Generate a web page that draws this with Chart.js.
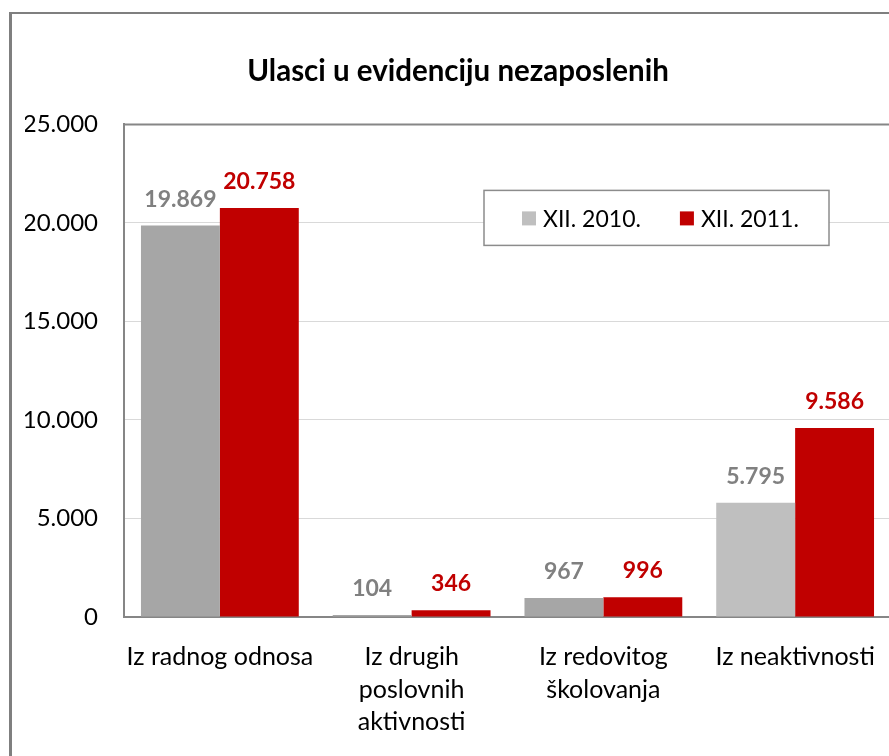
<!DOCTYPE html>
<html>
<head>
<meta charset="utf-8">
<script src="https://cdn.jsdelivr.net/npm/chart.js@4"></script>
<style>
html, body { margin: 0; padding: 0; background: #fff; overflow: hidden; }
#frame { position: absolute; left: 9px; top: 12px; width: 1000px; height: 1000px;
  border-left: 3px solid #7f7f7f; border-top: 2px solid #7f7f7f; }
#wrap { position: absolute; left: 0; top: 0; width: 910px; height: 756px; }
</style>
</head>
<body>
<div id="frame"></div>
<div id="wrap"><canvas id="c"></canvas></div>
<script>
// data
var categories = ['Iz radnog odnosa', ['Iz drugih', 'poslovnih', 'aktivnosti'], ['Iz redovitog', 'školovanja'], 'Iz neaktivnosti'];
var seriesNames = ['XII. 2010.', 'XII. 2011.'];
var values2010 = [19869, 104, 967, 5795];
var values2011 = [20758, 346, 996, 9586];
var yTicks = [0, 5000, 10000, 15000, 20000, 25000];

var FONT = "Lato, 'Open Sans', sans-serif";
var GRAY_BARS = ['#a6a6a6', '#a6a6a6', '#a6a6a6', '#bfbfbf'];
var LEGEND_GRAY = '#bfbfbf';
var RED = '#c00000';

function fmt(v) {
    return String(v).replace(/\B(?=(\d{3})+(?!\d))/g, '.');
}

// value labels above bars
var valueLabels = {
    id: 'valueLabels',
    afterDatasetsDraw: function(chart) {
        var ctx = chart.ctx;
        var colors = ['#808080', RED];
        ctx.save();
        ctx.font = 'bold 23px ' + FONT;
        ctx.textAlign = 'center';
        ctx.textBaseline = 'alphabetic';
        chart.data.datasets.forEach(function(ds, i) {
            var meta = chart.getDatasetMeta(i);
            ctx.fillStyle = colors[i];
            meta.data.forEach(function(bar, j) {
                ctx.fillText(fmt(ds.data[j]), bar.x, bar.y - 19);
            });
        });
        ctx.restore();
    }
};

// plot frame + legend box drawn inside the plot area
var frameAndLegend = {
    id: 'frameAndLegend',
    afterDraw: function(chart) {
        var ctx = chart.ctx;
        var a = chart.chartArea;
        ctx.save();
        ctx.strokeStyle = '#868686';
        ctx.lineWidth = 2;
        ctx.beginPath();
        ctx.moveTo(a.left, a.top);
        ctx.lineTo(chart.width, a.top);
        ctx.stroke();

        // legend
        var bx = a.left + 360, by = a.top + 66, bw = 345, bh = 55;
        ctx.fillStyle = '#fff';
        ctx.fillRect(bx, by, bw, bh);
        ctx.lineWidth = 1.5;
        ctx.strokeStyle = '#8c8c8c';
        ctx.strokeRect(bx, by, bw, bh);
        ctx.font = '23px ' + FONT;
        ctx.textBaseline = 'middle';
        ctx.textAlign = 'left';
        var swatches = [LEGEND_GRAY, RED];
        var x = bx + 38, cy = by + 28;
        seriesNames.forEach(function(name, i) {
            ctx.fillStyle = swatches[i];
            ctx.fillRect(x, cy - 7, 14, 14);
            ctx.fillStyle = '#000';
            ctx.fillText(name, x + 21, cy + 1);
            x = x + 21 + ctx.measureText(name).width + 39;
        });
        ctx.restore();
    }
};

new Chart(document.getElementById('c').getContext('2d'), {
    type: 'bar',
    data: {
        labels: categories,
        datasets: [
            { label: seriesNames[0], data: values2010, backgroundColor: GRAY_BARS,
              barPercentage: 1, categoryPercentage: 0.823 },
            { label: seriesNames[1], data: values2011, backgroundColor: RED,
              barPercentage: 1, categoryPercentage: 0.823 }
        ]
    },
    options: {
        responsive: true,
        maintainAspectRatio: false,
        animation: false,
        layout: { padding: { left: 25, right: 19, top: 0, bottom: 18 } },
        plugins: {
            legend: { display: false },
            tooltip: { enabled: false },
            title: {
                display: true,
                text: 'Ulasci u evidenciju nezaposlenih',
                color: '#000',
                font: { family: FONT, size: 29.5, weight: 'bold' },
                padding: { top: 54, bottom: 35 }
            }
        },
        scales: {
            x: {
                grid: { display: false },
                border: { color: '#868686', width: 2 },
                afterFit: function(scale) { scale.height = 121; },
                ticks: {
                    color: '#000',
                    font: { family: FONT, size: 25, lineHeight: 1.3 },
                    padding: 16,
                    maxRotation: 0,
                    autoSkip: false
                }
            },
            y: {
                min: 0,
                max: 25000,
                afterBuildTicks: function(scale) {
                    scale.ticks = yTicks.map(function(v) { return { value: v }; });
                },
                afterFit: function(scale) { scale.width = 99; },
                grid: { color: '#d9d9d9', drawTicks: false },
                border: { color: '#868686', width: 2 },
                ticks: {
                    color: '#000',
                    font: { family: FONT, size: 24 },
                    padding: 26,
                    callback: function(v) { return fmt(v); }
                }
            }
        }
    },
    plugins: [valueLabels, frameAndLegend]
});
</script>
</body>
</html>
